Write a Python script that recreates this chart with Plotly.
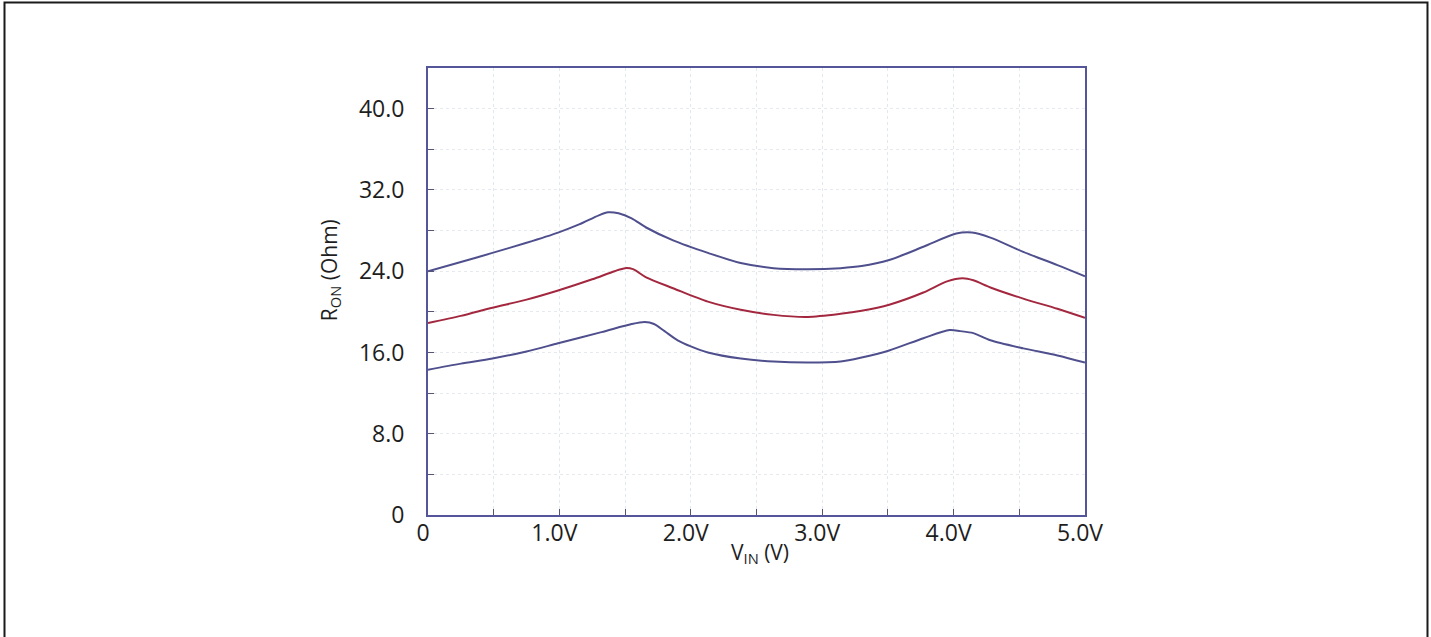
import plotly.graph_objects as go

# ---- data ----
x_top = [0, 0.25, 0.49, 0.75, 0.99, 1.15, 1.30, 1.37, 1.45, 1.55, 1.66, 1.87, 2.13, 2.38, 2.63, 2.89,
         3.14, 3.30, 3.51, 3.77, 4.02, 4.14, 4.28, 4.53, 4.79, 5.0]
r_top = [24.0, 24.9, 25.8, 26.8, 27.8, 28.6, 29.5, 29.8, 29.7, 29.2, 28.3, 27.0, 25.8, 24.8, 24.3, 24.2,
         24.3, 24.5, 25.1, 26.4, 27.7, 27.8, 27.3, 25.9, 24.6, 23.5]

x_mid = [0, 0.25, 0.49, 0.75, 0.99, 1.25, 1.42, 1.50, 1.56, 1.66, 1.87, 2.13, 2.38, 2.63, 2.89, 3.14,
         3.30, 3.51, 3.77, 3.95, 4.07, 4.15, 4.28, 4.53, 4.79, 5.0]
r_mid = [18.9, 19.6, 20.4, 21.2, 22.1, 23.2, 24.0, 24.3, 24.2, 23.4, 22.3, 21.0, 20.2, 19.7, 19.5, 19.8,
         20.1, 20.7, 21.9, 23.0, 23.3, 23.1, 22.4, 21.3, 20.3, 19.4]

x_bot = [0, 0.25, 0.49, 0.75, 0.99, 1.32, 1.55, 1.65, 1.72, 1.80, 1.90, 2.0, 2.13, 2.38, 2.63, 2.89, 3.14,
         3.30, 3.51, 3.77, 3.97, 4.05, 4.15, 4.28, 4.53, 4.79, 5.0]
r_bot = [14.3, 14.9, 15.4, 16.1, 16.9, 18.0, 18.8, 19.0, 18.8, 18.1, 17.2, 16.6, 16.0, 15.4, 15.1, 15.0, 15.1,
         15.5, 16.2, 17.4, 18.2, 18.1, 17.9, 17.2, 16.4, 15.7, 15.0]

x_tickvals = [0, 1.0, 2.0, 3.0, 4.0, 5.0]
x_ticktext = ["0", "1.0V", "2.0V", "3.0V", "4.0V", "5.0V"]
y_tickvals = [0, 8, 16, 24, 32, 40]
y_ticktext = ["0", "8.0", "16.0", "24.0", "32.0", "40.0"]

BLUE = "#4f4f8e"
RED = "#a3283f"
FRAME = "#55559a"
FONT = "Open Sans"
TXT = "#1e1e1e"

fig = go.Figure()
for xs, ys, c in [(x_top, r_top, BLUE), (x_mid, r_mid, RED), (x_bot, r_bot, BLUE)]:
    fig.add_trace(go.Scatter(x=xs, y=ys, mode="lines",
                             line=dict(color=c, width=2, shape="spline", smoothing=0.8),
                             showlegend=False, hoverinfo="skip"))

fig.update_layout(
    width=1431, height=637,
    margin=dict(l=428, r=346, t=68, b=122),
    paper_bgcolor="white", plot_bgcolor="white",
    font=dict(family=FONT, size=22, color=TXT),
    showlegend=False,
)
fig.update_xaxes(
    range=[0, 5.0], tickvals=x_tickvals, ticktext=x_ticktext,
    showline=True, linecolor=FRAME, linewidth=2, mirror=True,
    ticks="inside", ticklen=6, tickcolor="#555577", tickwidth=1,
    showgrid=True, gridcolor="#dfe9ee", gridwidth=1, griddash="dot",
    minor=dict(dtick=0.5, tick0=0, ticks="inside", ticklen=6, tickcolor="#555577",
               showgrid=True, gridcolor="#dfe9ee", gridwidth=1, griddash="dot"),
    zeroline=False, tickfont=dict(family=FONT, size=23, color=TXT),
    ticklabelstandoff=-4, ticklabelshift=-5,
)
fig.update_yaxes(
    range=[0, 44], tickvals=y_tickvals, ticktext=y_ticktext,
    showline=True, linecolor=FRAME, linewidth=2, mirror=True,
    ticks="inside", ticklen=6, tickcolor="#555577", tickwidth=1,
    showgrid=True, gridcolor="#e6eaee", gridwidth=1, griddash="dot",
    minor=dict(dtick=4, tick0=0, ticks="inside", ticklen=6, tickcolor="#555577",
               showgrid=True, gridcolor="#e6eaee", gridwidth=1, griddash="dot"),
    zeroline=False, tickfont=dict(family=FONT, size=23, color=TXT),
    ticklabelstandoff=17,
)

fig.add_annotation(xref="paper", yref="paper", x=0.505, y=-0.085,
                   text="V<sub>IN</sub> (V)", showarrow=False,
                   font=dict(family=FONT, size=21, color=TXT),
                   xanchor="center", yanchor="middle")
fig.add_annotation(xref="paper", yref="paper", x=-0.149, y=0.548,
                   text="R<sub>ON</sub> (Ohm)", showarrow=False, textangle=-90,
                   font=dict(family=FONT, size=21, color=TXT),
                   xanchor="center", yanchor="middle")

# outer frame (left, top, right visible)
fig.add_shape(type="rect", xref="paper", yref="paper",
              x0=-0.6446, x1=1.5213, y0=-0.6, y1=1.1465,
              line=dict(color="#1a1a1a", width=2), fillcolor="rgba(0,0,0,0)", layer="above")

fig.write_html("out.html", config={"displayModeBar": False},
               post_script="document.body.style.margin='0';")
